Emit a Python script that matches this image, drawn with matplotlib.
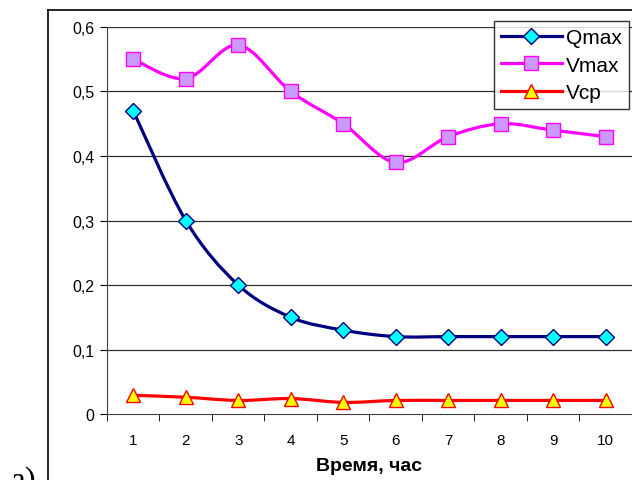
import numpy as np
import matplotlib
matplotlib.use("Agg")
import matplotlib.pyplot as plt
from matplotlib.path import Path
from matplotlib.patches import PathPatch
from matplotlib.lines import Line2D

# data
hours = [1, 2, 3, 4, 5, 6, 7, 8, 9, 10]
qmax = [0.47, 0.30, 0.20, 0.15, 0.13, 0.12, 0.12, 0.12, 0.12, 0.12]
vmax = [0.55, 0.52, 0.572, 0.50, 0.45, 0.39, 0.43, 0.45, 0.44, 0.43]
vcp = [0.029, 0.026, 0.021, 0.024, 0.018, 0.021, 0.021, 0.021, 0.021, 0.021]
yticks = [0, 0.1, 0.2, 0.3, 0.4, 0.5, 0.6]
ytick_labels = ["0", "0,1", "0,2", "0,3", "0,4", "0,5", "0,6"]
xlabel = "Время, час"

plt.rcParams['font.family'] = ['Liberation Sans', 'DejaVu Sans']


def smooth_path(x, y):
	# Excel-like smoothed line: bezier segments through the points
	x = np.asarray(x, float)
	y = np.asarray(y, float)
	verts = [(x[0], y[0])]
	codes = [Path.MOVETO]
	n = len(x)
	for i in range(n - 1):
		x0, y0 = (x[i - 1], y[i - 1]) if i > 0 else (x[i], y[i])
		x3, y3 = (x[i + 2], y[i + 2]) if i + 2 < n else (x[i + 1], y[i + 1])
		c1 = (x[i] + (x[i + 1] - x0) / 6, y[i] + (y[i + 1] - y0) / 6)
		c2 = (x[i + 1] - (x3 - x[i]) / 6, y[i + 1] - (y3 - y[i]) / 6)
		verts += [c1, c2, (x[i + 1], y[i + 1])]
		codes += [Path.CURVE4] * 3
	return Path(verts, codes)


fig = plt.figure(figsize=(6.32, 4.81), dpi=100)
ax = fig.add_axes([0.1693, 0.1372, 0.8307, 0.8046])

series = [
	("Qmax", qmax, "#000080", "D", "#00ffff", "#000080", 8),
	("Vmax", vmax, "#ff00ff", "s", "#cc99ff", "#ff00ff", 10),
	("Vcp", vcp, "#ff0000", "^", "#ffff00", "#ff0000", 10),
]

handles = []
for name, vals, col, mk, fc, ec, ms in series:
	patch = PathPatch(smooth_path(hours, vals), facecolor='none', edgecolor=col,
					  lw=2.3, zorder=3)
	ax.add_patch(patch)
	ax.plot(hours, vals, linestyle='none', marker=mk, markersize=ms,
			markerfacecolor=fc, markeredgecolor=ec, markeredgewidth=1, zorder=4)
	handles.append(Line2D([], [], color=col, lw=2.3, marker=mk, markersize=ms,
						  markerfacecolor=fc, markeredgecolor=ec))

ax.set_xlim(0.5, 10.5)
ax.set_ylim(0, 0.6)
ax.set_yticks(yticks)
ax.set_yticklabels(ytick_labels, fontsize=11.5)
ax.set_xticks(hours)
ax.set_xticklabels([str(h) for h in hours], fontsize=11)
ax.set_xticks(np.arange(0.5, 10.6, 1), minor=True)
ax.tick_params(axis='x', which='major', length=0, pad=14)
ax.tick_params(axis='x', which='minor', length=5, direction='out', color='black')
ax.tick_params(axis='y', length=5, direction='out', pad=4)

for yv in yticks[1:]:
	ax.axhline(yv, color='#303030', lw=0.9, zorder=1)

for s in ['top', 'right']:
	ax.spines[s].set_visible(False)
ax.spines['left'].set_color('#404040')
ax.spines['bottom'].set_color('#404040')

ax.set_xlabel(xlabel, fontsize=14, fontweight='bold', labelpad=7)

leg = ax.legend(handles, ["Qmax", "Vmax", "Vcp"], loc='upper right',
				bbox_to_anchor=(629 / 632, 1 - 22 / 481), bbox_transform=fig.transFigure,
				fontsize=15, frameon=True, fancybox=False, handlelength=2.9,
				borderpad=0.35, labelspacing=0.4, handletextpad=0.2, borderaxespad=0)
leg.get_frame().set_edgecolor('black')
leg.get_frame().set_linewidth(1)

# outer chart frame
fig.add_artist(Line2D([48 / 632, 48 / 632], [0, 1 - 11 / 481], color='black', lw=1.2))
fig.add_artist(Line2D([48 / 632, 1], [1 - 11 / 481, 1 - 11 / 481], color='black', lw=1.2))

fig.text(0.017, -0.018, "а)", fontsize=24, family='Liberation Serif', va='baseline')

fig.savefig("out.png", dpi=100)
